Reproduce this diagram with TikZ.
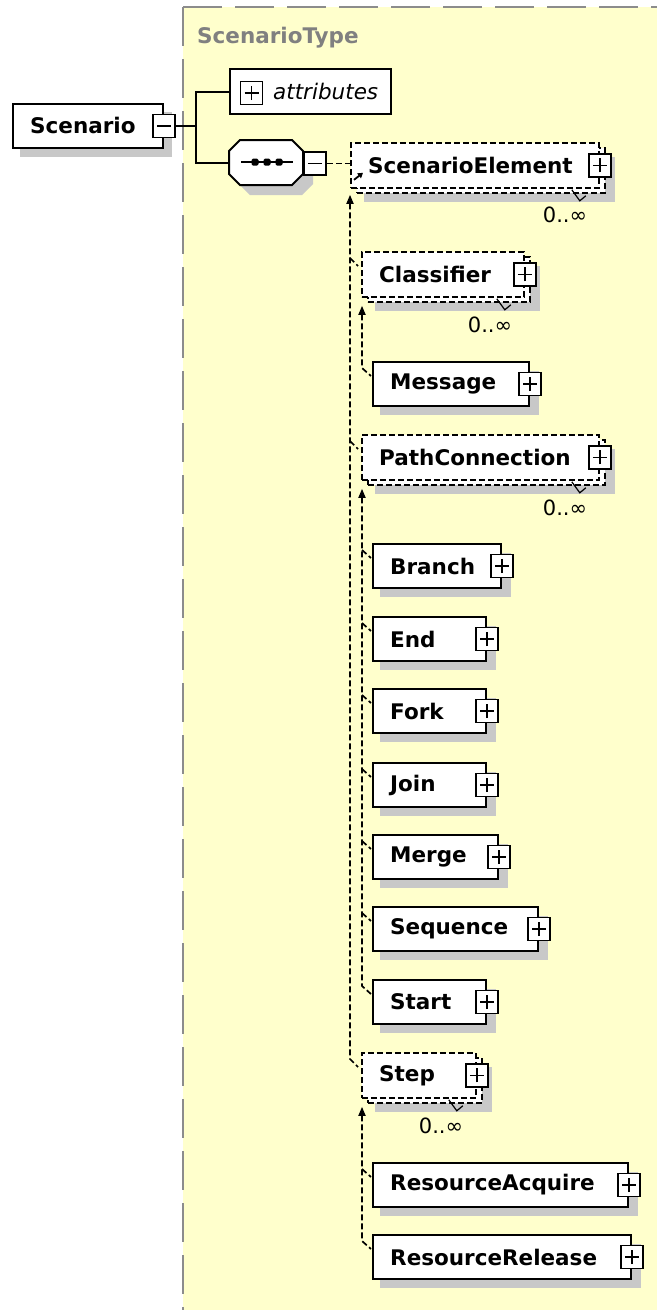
\documentclass[tikz,border=0pt]{standalone}
\usepackage{fontspec}
\setmainfont{DejaVu Sans}
\usetikzlibrary{arrows.meta,calc}
\definecolor{ybg}{RGB}{255,255,204}
\definecolor{shd}{RGB}{200,200,200}
\definecolor{bgray}{RGB}{140,140,140}
\definecolor{tgray}{RGB}{128,128,128}
\tikzset{
  lbl/.style={font=\fontsize{21.5}{24}\selectfont\bfseries, inner sep=0pt, text=black},
  occ/.style={font=\fontsize{21}{24}\selectfont, inner sep=0pt, text=black},
  elbox/.style={draw=black, fill=white, line width=2pt, rectangle, inner sep=0pt},
  dbox/.style={draw=black, fill=white, line width=1.8pt, dash pattern=on 6pt off 3pt, rectangle, inner sep=0pt},
  dline/.style={draw=black, line width=1.7pt, dash pattern=on 6pt off 3pt},
  sline/.style={draw=black, line width=2pt},
  uparr/.style={arrows={Triangle[width=7pt,length=9pt]-}},
  pmbase/.style={draw=black, fill=white, line width=1.8pt, rectangle, minimum width=22pt, minimum height=23pt, inner sep=0pt},
  plusbox/.style={pmbase, path picture={
     \draw[line width=1.8pt] ([xshift=-7pt]path picture bounding box.center) -- ([xshift=7pt]path picture bounding box.center)
       ([yshift=-7pt]path picture bounding box.center) -- ([yshift=7pt]path picture bounding box.center);}},
  minusbox/.style={pmbase, path picture={
     \draw[line width=1.8pt] ([xshift=-7pt]path picture bounding box.center) -- ([xshift=7pt]path picture bounding box.center);}},
}
% solid element: name, left x, top y, width, text
\newcommand\solidel[5]{%
  \fill[shd] (#2+8,#3+10) rectangle (#2+#4+11,#3+54);
  \node[elbox, anchor=north west, minimum width=#4pt, minimum height=44pt] (#1) at (#2,#3) {};
  \node[lbl, anchor=west] (#1t) at ([xshift=18pt]#1.west) {#5};
  \node[plusbox] (#1p) at (#1.east) {};
}
% optional repeated element (dashed, stacked): name, left x, top y, width, text
\newcommand\multiel[5]{%
  \fill[shd] (#2+14,#3+15) rectangle (#2+#4+17,#3+60);
  \node[dbox, anchor=north west, minimum width=#4pt, minimum height=45pt] (#1b) at (#2+6,#3+5) {};
  \node[dbox, anchor=north west, minimum width=#4pt, minimum height=45pt] (#1) at (#2,#3) {};
  \node[lbl, anchor=west] (#1t) at ([xshift=18pt]#1.west) {#5};
  \node[plusbox] (#1p) at (#1.east) {};
  \draw[line width=1.2pt] ($(#1.south east)+(-28,1)$) -- ++(8,11) -- ++(6,-5);
}
\begin{document}
\begin{tikzpicture}[x=1pt,y=-1pt]
\useasboundingbox (0,0) rectangle (657,1310);
% type area
\fill[ybg] (183,7) rectangle (657,1310);
\draw[bgray, line width=2pt, dash pattern=on 39pt off 13pt] (183,7) -- (657,7);
\draw[bgray, line width=2pt, dash pattern=on 39pt off 13pt] (183,7) -- (183,1310);
\node[font=\fontsize{21.5}{24}\selectfont\bfseries, text=tgray, anchor=west, inner sep=0pt] (stype) at (197,38) {ScenarioType};

% Scenario element
\fill[shd] (20,112) rectangle (172,157);
\node[elbox, anchor=north west, minimum width=150pt, minimum height=44pt] (scen) at (12,103) {};
\node[lbl, anchor=west] (scent) at (30,125) {Scenario};
\node[minusbox] (scenm) at (scen.east) {};

% attributes
\node[elbox, anchor=north west, minimum width=161pt, minimum height=45pt] (attr) at (229,68) {};
\node[plusbox] (attrp) at (251.5,93) {};
\node[font=\fontsize{21.5}{24}\selectfont\itshape, anchor=west, inner sep=0pt] (attrt) at (273,91) {attributes};

% sequence compositor
\node[minimum width=74pt, minimum height=45pt, inner sep=0pt] (seq) at (266,162.5) {};
\fill[shd] (239,161) -- (250,150) -- (302,150) -- (313,161) -- (313,184) -- (302,195) -- (250,195) -- (239,184) -- cycle;
\draw[line width=2pt, fill=white] (229,151) -- (240,140) -- (292,140) -- (303,151) -- (303,174) -- (292,185) -- (240,185) -- (229,174) -- cycle;
\draw[line width=2pt] (241,162) -- (293,162);
\foreach \dx/\nm in {255/d1,267/d2,279/d3}{
  \node[fill=black, rounded corners=1.5pt, minimum size=7pt, inner sep=0pt] (\nm) at (\dx,162) {};
}
\node[minusbox] (seqm) at (315,163.5) {};

% connectors from Scenario
\coordinate (j) at (196,126);
\draw[sline] (scenm.east) -- (j);
\draw[sline] (j) |- (attr.west);
\draw[sline] (j) |- (seq.west);

% children
\multiel{se}{350}{142}{248}{ScenarioElement}
\draw[dline] (seqm.east) -- (seqm.east -| se.west);
\draw[line width=1.8pt, -{Triangle[width=6pt,length=5pt]}] ($(se.south west)+(4,-9)$) -- ++(9,-7);
\node[occ] (seo) at (565,215) {0..∞};

\multiel{cls}{361}{251}{162}{Classifier}
\node[occ] (clso) at (490,325) {0..∞};
\solidel{msg}{372}{361}{156}{Message}

\multiel{pc}{361}{434}{237}{PathConnection}
\node[occ] (pco) at (565,508) {0..∞};
\solidel{branch}{372}{543}{128}{Branch}
\solidel{end}{372}{616}{113}{End}
\solidel{fork}{372}{688}{113}{Fork}
\solidel{join}{372}{762}{113}{Join}
\solidel{merge}{372}{834}{125}{Merge}
\solidel{sequ}{372}{906}{165}{Sequence}
\solidel{start}{372}{979}{113}{Start}

\multiel{step}{361}{1052}{114}{Step}
\node[occ] (stepo) at (441,1126) {0..∞};
\solidel{ra}{372}{1162}{255}{ResourceAcquire}
\solidel{rr}{372}{1234}{258}{ResourceRelease}

% substitution group lines (outer)
\draw[dline, uparr] ($(se.south west)+(0,6)$) -- ($(step.north west)+(-11,7)$) -- ($(step.north west)+(-3,15)$);
\draw[dline] ($(cls.north west)+(-11,7)$) -- ($(cls.north west)+(-3,15)$);
\draw[dline] ($(pc.north west)+(-11,7)$) -- ($(pc.north west)+(-3,15)$);

% Classifier group
\draw[dline, uparr] ($(cls.south west)+(1,8)$) -- ($(msg.north west)+(-10,7)$) -- ($(msg.north west)+(-1,15)$);
% PathConnection group
\draw[dline, uparr] ($(pc.south west)+(1,8)$) -- ($(start.north west)+(-10,7)$) -- ($(start.north west)+(-1,15)$);
\foreach \n in {branch,end,fork,join,merge,sequ}{
  \draw[dline] ($(\n.north west)+(-10,7)$) -- ($(\n.north west)+(-1,15)$);
}
% Step group
\draw[dline, uparr] ($(step.south west)+(1,8)$) -- ($(rr.north west)+(-10,7)$) -- ($(rr.north west)+(-1,15)$);
\draw[dline] ($(ra.north west)+(-10,7)$) -- ($(ra.north west)+(-1,15)$);
\end{tikzpicture}
\end{document}
